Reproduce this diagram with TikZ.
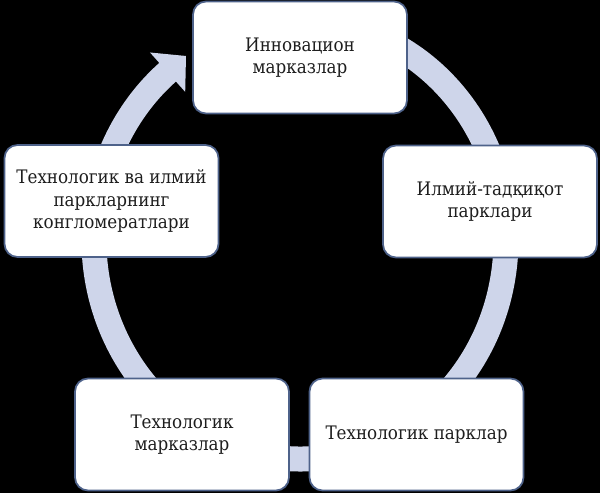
\documentclass[tikz,border=0pt]{standalone}
\usepackage{fontspec}
\newfontfamily\boxfont{DejaVu Serif Condensed}
\definecolor{ringc}{RGB}{206,213,234}
\definecolor{boxedge}{RGB}{78,98,138}
\definecolor{txt}{RGB}{30,30,30}
\begin{document}
\begin{tikzpicture}[x=0.02cm,y=0.02cm,
  box/.style={draw=boxedge, line width=1pt, fill=white, rounded corners=0.26cm,
    minimum width=4.28cm, minimum height=2.24cm, align=center, inner sep=0pt,
    font=\boxfont\fontsize{10.6}{12.6}\selectfont, text=txt},
  ring/.style={draw=ringc, line width=0.5cm}]
\fill[black] (0,0) rectangle (600,493);
\useasboundingbox (0,0) rectangle (600,493);
% cycle ring with arrowhead
\coordinate (ctr) at (300,253);
\draw[ring] (ctr) ++(80:206 and 219) arc[start angle=80, end angle=-231, x radius=206, y radius=219];
\coordinate (hb1) at (150.0,440.5);
\coordinate (hb2) at (185.2,401.1);
\coordinate (htip) at (186.0,437.0);
\fill[ringc] (hb1) -- (htip) -- (hb2) -- cycle;
% boxes
\node[box] (top) at (300,435.5) {Инновацион\\марказлар};
\node[box] (right) at (490,291.5) {Илмий-тадқиқот\\парклари};
\node[box] (bright) at (416.5,58.5) {Технологик парклар};
\node[box] (bleft) at (182,58.5) {Технологик\\марказлар};
\node[box] (left) at (111.5,292) {Технологик ва илмий\\паркларнинг\\конгломератлари};
\end{tikzpicture}
\end{document}
